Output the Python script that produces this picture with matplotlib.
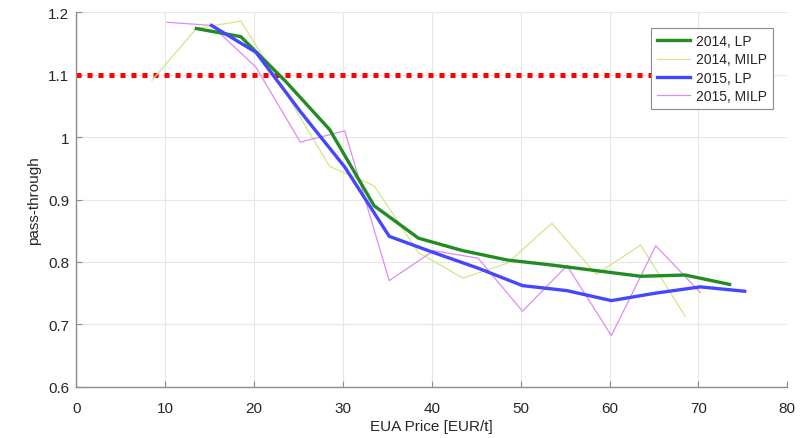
import matplotlib
matplotlib.use("Agg")
import matplotlib.pyplot as plt

plt.rcParams['font.family'] = ['Liberation Sans', 'DejaVu Sans']

x2014 = [13.5, 18.5, 23.5, 28.5, 33.5, 38.5, 43.5, 48.5, 53.5, 58.5, 63.5, 68.5, 73.5]
lp2014 = [1.174, 1.161, 1.090, 1.012, 0.890, 0.838, 0.818, 0.803, 0.795, 0.786, 0.777, 0.779, 0.764]
x2014m = [8.5, 13.5, 18.5, 23.5, 28.5, 33.5, 38.5, 43.5, 48.5, 53.5, 58.5, 63.5, 68.5]
milp2014 = [1.091, 1.174, 1.186, 1.072, 0.953, 0.922, 0.815, 0.774, 0.798, 0.862, 0.780, 0.827, 0.713]
x2015 = [15.2, 20.2, 25.2, 30.2, 35.2, 40.2, 45.2, 50.2, 55.2, 60.2, 65.2, 70.2, 75.2]
lp2015 = [1.179, 1.136, 1.041, 0.952, 0.841, 0.815, 0.790, 0.762, 0.754, 0.738, 0.750, 0.760, 0.753]
x2015m = [10.2, 15.2, 20.2, 25.2, 30.2, 35.2, 40.2, 45.2, 50.2, 55.2, 60.2, 65.2, 70.2]
milp2015 = [1.184, 1.179, 1.112, 0.992, 1.010, 0.770, 0.818, 0.806, 0.721, 0.794, 0.682, 0.826, 0.751]
ref_x = [0, 70]
ref_y = [1.1, 1.1]

fig = plt.figure(figsize=(8.01, 4.39), dpi=100)
ax = fig.add_axes([0.0954, 0.1168, 0.8875, 0.8529])

ax.plot(ref_x, ref_y, color='#ff0000', lw=3.6, linestyle=(0, (1, 1.2)), zorder=2)
h1, = ax.plot(x2014, lp2014, color='#228b22', lw=2.4, label='2014, LP', zorder=4)
h2, = ax.plot(x2014m, milp2014, color='#d2e68c', lw=0.9, label='2014, MILP', zorder=3)
h3, = ax.plot(x2015, lp2015, color='#4646ff', lw=2.4, label='2015, LP', zorder=5)
h4, = ax.plot(x2015m, milp2015, color='#dd8cf5', lw=0.9, label='2015, MILP', zorder=3)

ax.set_xlim(0, 80)
ax.set_ylim(0.6, 1.2)
ax.set_xticks(range(0, 81, 10))
ax.set_yticks([0.6, 0.7, 0.8, 0.9, 1.0, 1.1, 1.2])
ax.set_yticklabels(['0.6', '0.7', '0.8', '0.9', '1', '1.1', '1.2'])
ax.grid(True, color='#e6e6e6', lw=0.8)
ax.set_axisbelow(True)
for s in ['top', 'right']:
    ax.spines[s].set_visible(False)
for s in ['left', 'bottom']:
    ax.spines[s].set_color('#8c8c8c')
    ax.spines[s].set_linewidth(1.0)
ax.tick_params(direction='in', length=4, width=0.8, color='#8c8c8c',
               labelsize=11, labelcolor='#262626')
ax.tick_params(axis='x', pad=10)
ax.tick_params(axis='y', pad=5)
ax.set_xlabel('EUA Price [EUR/t]', fontsize=11, color='#262626', labelpad=3)
ax.set_ylabel('pass-through', fontsize=11, color='#262626', labelpad=5)

leg = ax.legend(handles=[h1, h2, h3, h4], loc='upper right', bbox_to_anchor=(0.980, 0.958),
                fontsize=10, frameon=True, fancybox=False, framealpha=1.0,
                handlelength=2.4, borderpad=0.45, labelspacing=0.3, handletextpad=0.4,
                borderaxespad=0)
leg.get_frame().set_edgecolor('#8c8c8c')
leg.get_frame().set_linewidth(0.8)
leg.set_zorder(10)
for t in leg.get_texts():
    t.set_color('#262626')

fig.savefig('out.png', dpi=100)
